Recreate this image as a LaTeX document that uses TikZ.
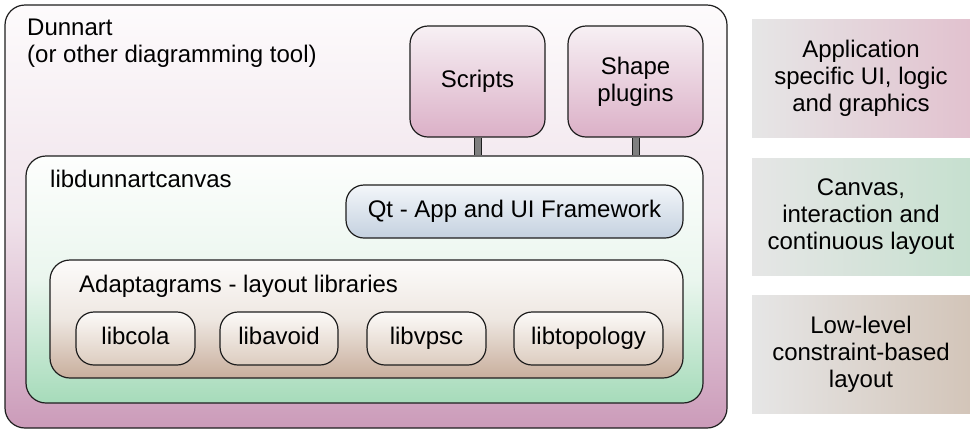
\documentclass[tikz,border=0pt]{standalone}
\usepackage{fontspec}
\setmainfont{Liberation Sans}
\definecolor{bord}{HTML}{1E1E1E}
\definecolor{outerT}{HTML}{FDFBFC}
\definecolor{outerM}{HTML}{F0E3EB}
\definecolor{outerB}{HTML}{CB9BB9}
\definecolor{canT}{HTML}{FDFEFD}
\definecolor{canM}{HTML}{EAF6EE}
\definecolor{canB}{HTML}{A6DBBA}
\definecolor{adT}{HTML}{FCFBFA}
\definecolor{adM}{HTML}{EEE7E1}
\definecolor{adB}{HTML}{C8AE9C}
\definecolor{libT}{HTML}{FCFAF8}
\definecolor{libB}{HTML}{DCCCBF}
\definecolor{scT}{HTML}{F7F0F4}
\definecolor{scB}{HTML}{DBB0C7}
\definecolor{qtT}{HTML}{F3F6FA}
\definecolor{qtB}{HTML}{C4D1DF}
\definecolor{legG}{HTML}{E6E6E6}
\definecolor{legP}{HTML}{E2C2CF}
\definecolor{legGr}{HTML}{C6E0CF}
\definecolor{legT}{HTML}{D3C5B9}
\definecolor{barc}{HTML}{7F7F7F}
\begin{document}
\begin{tikzpicture}[x=1pt,y=-1pt,
  font=\fontsize{24}{27}\selectfont,
  box/.style={draw=bord, line width=1.2pt, inner sep=0pt, align=center},
  outerbox/.style={box, rounded corners=20pt, top color=outerT, bottom color=outerB, middle color=outerM},
  canvasbox/.style={box, rounded corners=20pt, top color=canT, bottom color=canB, middle color=canM},
  adaptbox/.style={box, rounded corners=20pt, top color=adT, bottom color=adB, middle color=adM},
  libbox/.style={box, rounded corners=18pt, top color=libT, bottom color=libB, minimum height=53pt, text height=17.5pt, text depth=5pt},
  plugbox/.style={box, rounded corners=18pt, top color=scT, bottom color=scB, minimum width=135pt, minimum height=111pt},
  qtbox/.style={box, rounded corners=18pt, top color=qtT, bottom color=qtB, text height=17.5pt, text depth=5pt},
  legend/.style={inner sep=0pt, align=center, minimum width=218pt},
  title/.style={inner sep=0pt, align=left},
  connbar/.style={draw=bord, line width=1pt, double=barc, double distance=6pt}
]
\useasboundingbox (0,0) rectangle (970,432);

% outer application box
\node[outerbox, minimum width=722pt, minimum height=423pt] (outer) at (366,216.5) {};
\node[title, anchor=north west] (outerlbl) at (27,19) {Dunnart\\(or other diagramming tool)};

% plugins
\node[plugbox] (scripts) at (477.5,81.5) {Scripts};
\node[plugbox] (shapes) at (635.5,81.5) {Shape\\plugins};

% canvas box
\node[canvasbox, minimum width=677pt, minimum height=247pt] (canvas) at (364.5,279.5) {};
\node[title, anchor=base west] (canvaslbl) at (50,187) {libdunnartcanvas};

% connectors
\draw[connbar] (scripts.south) -- (scripts.south |- canvas.north);
\draw[connbar] (shapes.south) -- (shapes.south |- canvas.north);

% Qt
\node[qtbox, minimum width=337pt, minimum height=53pt] (qt) at (514.5,211.5) {Qt - App and UI Framework};

% Adaptagrams
\node[adaptbox, minimum width=633pt, minimum height=118pt] (adapt) at (366.5,319) {};
\node[title, anchor=base west] (adaptlbl) at (79,292) {Adaptagrams - layout libraries};

\node[libbox, minimum width=119pt] (cola) at (135.5,338.5) {libcola};
\node[libbox, minimum width=118pt] (avoid) at (279,338.5) {libavoid};
\node[libbox, minimum width=119pt] (vpsc) at (426.5,338.5) {libvpsc};
\node[libbox, minimum width=149pt] (topo) at (588.5,338.5) {libtopology};

% legend
\node[legend, minimum height=118pt, left color=legG, right color=legP] (leg1) at (861,78) {Application\\specific UI, logic\\and graphics};
\node[legend, minimum height=117pt, left color=legG, right color=legGr] (leg2) at (861,216.5) {Canvas,\\interaction and\\continuous layout};
\node[legend, minimum height=118pt, left color=legG, right color=legT] (leg3) at (861,354) {Low-level\\constraint-based\\layout};
\end{tikzpicture}
\end{document}
